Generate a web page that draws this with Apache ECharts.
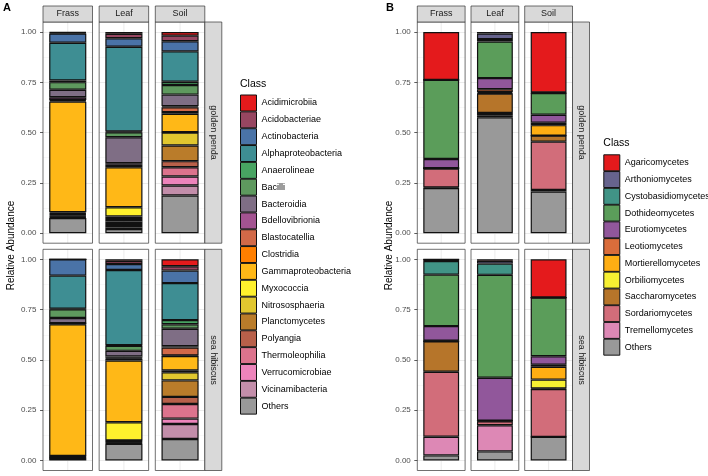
<!DOCTYPE html>
<html><head><meta charset="utf-8">
<script src="https://cdn.jsdelivr.net/npm/echarts@6/dist/echarts.min.js"></script>
<style>html,body{margin:0;padding:0;background:#fff}#c{width:708px;height:476px}</style>
</head><body><div id="c"></div>
<script>
// ---------- data ----------
const samples = ['Frass', 'Leaf', 'Soil'];
const hosts = ['golden penda', 'sea hibiscus'];
const yTickStep = 0.25;

const classesA = ['Acidimicrobiia','Acidobacteriae','Actinobacteria','Alphaproteobacteria','Anaerolineae','Bacilli','Bacteroidia','Bdellovibrionia','Blastocatellia','Clostridia','Gammaproteobacteria','Myxococcia','Nitrososphaeria','Planctomycetes','Polyangia','Thermoleophilia','Verrucomicrobiae','Vicinamibacteria','Others'];
const classesB = ['Agaricomycetes','Arthoniomycetes','Cystobasidiomycetes','Dothideomycetes','Eurotiomycetes','Leotiomycetes','Mortierellomycetes','Orbiliomycetes','Saccharomycetes','Sordariomycetes','Tremellomycetes','Others'];

// relative abundance per class (same order as classesA)
const aGoldenFrass = [0.003,0.004,0.046,0.188,0.008,0.038,0.037,0.014,0.004,0.004,0.550,0.005,0.004,0.004,0.004,0.004,0.004,0.004,0.075];
const aGoldenLeaf  = [0.009,0.022,0.042,0.421,0.004,0.025,0.129,0.008,0.006,0.006,0.199,0.046,0.013,0.012,0.008,0.010,0.012,0.008,0.020];
const aGoldenSoil  = [0.018,0.028,0.050,0.151,0.016,0.048,0.058,0.005,0.024,0.008,0.092,0.002,0.064,0.078,0.030,0.046,0.045,0.050,0.187];
const aSeaFrass    = [0,0,0.081,0.165,0.002,0.044,0.026,0,0.002,0.003,0.655,0.002,0.002,0.002,0.002,0.002,0.002,0.002,0.008];
const aSeaLeaf     = [0.007,0.016,0.030,0.374,0.003,0.025,0.028,0.006,0.004,0.010,0.307,0.090,0.002,0.003,0.003,0.003,0.003,0.003,0.083];
const aSeaSoil     = [0.034,0.022,0.062,0.184,0.021,0.022,0.087,0.006,0.040,0.003,0.071,0.010,0.040,0.082,0.035,0.073,0.027,0.074,0.107];

// relative abundance per class (same order as classesB)
const bGoldenFrass = [0.238,0,0,0.393,0.046,0,0,0,0.002,0.094,0.003,0.224];
const bGoldenLeaf  = [0.007,0.028,0.012,0.182,0.055,0.014,0.005,0.003,0.096,0.012,0.010,0.576];
const bGoldenSoil  = [0.300,0.003,0,0.108,0.040,0.012,0.052,0,0.030,0.240,0.008,0.207];
const bSeaFrass    = [0,0.008,0.068,0.256,0.072,0.003,0,0,0.152,0.323,0.093,0.025];
const bSeaLeaf     = [0.007,0.014,0.056,0.512,0.213,0,0,0,0.003,0.020,0.130,0.045];
const bSeaSoil     = [0.190,0,0,0.292,0.042,0.010,0.064,0.044,0.003,0.238,0,0.117];

// ---------- styles ----------
const colorsA = ['#E41A1C','#974661','#4A73A7','#3E8E93','#48A462','#5E995E','#7F6E85','#A35391','#D16948','#FF7F00','#FFB817','#FFF12D','#E1C72F','#BA7C2A','#B8604A','#DC738D','#ED84BB','#C38EAA','#999999'];
const colorsB = ['#E41A1C','#66638D','#419486','#5B9D5A','#91579B','#DA6D3B','#FFAE13','#F7F032','#B6752A','#D26D7A','#DD88B5','#999999'];

const FONT = '"Liberation Sans", Arial, Helvetica, sans-serif';
const panelTops = [22, 249.3];
const panelH = 221.2;
const stripH = 16, stripW = 17;
const panels = [
  { tag: 'A', x0: 43, w: 49.5, step: 56.15, classes: classesA, colors: colorsA,
    values: [[aGoldenFrass, aGoldenLeaf, aGoldenSoil], [aSeaFrass, aSeaLeaf, aSeaSoil]],
    tagX: 7, titleX: 11.5, legendX: 240, legendTop: 94.5, legendGap: -0.16, classTitleY: 84 },
  { tag: 'B', x0: 417.3, w: 47.8, step: 53.7, classes: classesB, colors: colorsB,
    values: [[bGoldenFrass, bGoldenLeaf, bGoldenSoil], [bSeaFrass, bSeaLeaf, bSeaSoil]],
    tagX: 390, titleX: 389, legendX: 603.3, legendTop: 154.3, legendGap: -0.24, classTitleY: 143.5 }
];

const grids = [], xAxes = [], yAxes = [], series = [], graphics = [], legends = [];
let gi = 0;
panels.forEach(p => {
  graphics.push({ type: 'text', x: p.tagX, y: 8, z: 100,
    style: { text: p.tag, font: 'bold 11px ' + FONT, fill: '#000', align: 'center', verticalAlign: 'middle' } });
  graphics.push({ type: 'text', x: p.titleX, y: 245.5, rotation: Math.PI / 2, z: 100,
    style: { text: 'Relative Abundance', font: '10px ' + FONT, fill: '#000', align: 'center', verticalAlign: 'middle' } });
  graphics.push({ type: 'text', x: p.legendX, y: p.classTitleY, z: 100,
    style: { text: 'Class', font: '10.5px ' + FONT, fill: '#000', align: 'left', verticalAlign: 'middle' } });

  hosts.forEach((host, r) => {
    const pTop = panelTops[r];
    samples.forEach((s, c) => {
      const px = p.x0 + c * p.step;
      grids.push({ left: px, width: p.w, top: pTop + panelH * 0.05 / 1.1, height: panelH / 1.1, containLabel: false });
      xAxes.push({ type: 'category', gridIndex: gi, data: [s],
        axisLine: { show: false }, axisTick: { show: false }, axisLabel: { show: false }, splitLine: { show: false } });
      yAxes.push({ type: 'value', gridIndex: gi, min: 0, max: 1, interval: yTickStep,
        axisLine: { show: false },
        axisTick: { show: c === 0, length: 3, lineStyle: { color: '#333', width: 0.8 } },
        axisLabel: { show: c === 0, margin: 6.5, fontSize: 8, color: '#4D4D4D', fontFamily: FONT,
          formatter: v => v.toFixed(2) },
        splitLine: { show: true, lineStyle: { color: '#EBEBEB', width: 1 } },
        minorTick: { show: false, splitNumber: 2 },
        minorSplitLine: { show: true, lineStyle: { color: '#F4F4F4', width: 0.6 } } });
      // stacked bars: last class (Others) at bottom
      const vals = p.values[r][c];
      for (let k = p.classes.length - 1; k >= 0; k--) {
        series.push({ type: 'bar', name: p.classes[k], xAxisIndex: gi, yAxisIndex: gi,
          stack: 'st' + gi, barWidth: '75%', data: [vals[k]], z: 3,
          itemStyle: { color: p.colors[k], borderColor: '#111', borderWidth: 1.2 },
          emphasis: { disabled: true }, animation: false });
      }
      // vertical grid line
      graphics.push({ type: 'line', z: 1, silent: true,
        shape: { x1: px + p.w / 2, y1: pTop, x2: px + p.w / 2, y2: pTop + panelH },
        style: { stroke: '#EBEBEB', lineWidth: 1 } });
      // panel border
      graphics.push({ type: 'rect', z: 50, silent: true,
        shape: { x: px, y: pTop, width: p.w, height: panelH },
        style: { fill: 'none', stroke: '#333', lineWidth: 0.7 } });
      if (r === 0) {
        graphics.push({ type: 'rect', z: 50, silent: true,
          shape: { x: px, y: pTop - stripH, width: p.w, height: stripH },
          style: { fill: '#D9D9D9', stroke: '#333', lineWidth: 0.7 } });
        graphics.push({ type: 'text', z: 51, x: px + p.w / 2, y: pTop - stripH / 2,
          style: { text: s, font: '9px ' + FONT, fill: '#1A1A1A', align: 'center', verticalAlign: 'middle' } });
      }
      if (c === samples.length - 1) {
        graphics.push({ type: 'rect', z: 50, silent: true,
          shape: { x: px + p.w, y: pTop, width: stripW, height: panelH },
          style: { fill: '#D9D9D9', stroke: '#333', lineWidth: 0.7 } });
        graphics.push({ type: 'text', z: 51, x: px + p.w + stripW / 2, y: pTop + panelH / 2, rotation: -Math.PI / 2,
          style: { text: host, font: '9px ' + FONT, fill: '#1A1A1A', align: 'center', verticalAlign: 'middle' } });
      }
      gi++;
    });
  });

  legends.push({ data: p.classes, orient: 'vertical', left: p.legendX, top: p.legendTop,
    itemWidth: 16, itemHeight: 16, itemGap: p.legendGap, icon: 'rect', selectedMode: false,
    itemStyle: { borderColor: '#111', borderWidth: 1 },
    textStyle: { fontSize: 9, color: '#000', fontFamily: FONT }, padding: 0 });
});

const chart = echarts.init(document.getElementById('c'), null, { renderer: 'canvas' });
chart.setOption({
  animation: false,
  backgroundColor: '#fff',
  grid: grids, xAxis: xAxes, yAxis: yAxes, series: series,
  legend: legends,
  graphic: { elements: graphics }
});
</script></body></html>
